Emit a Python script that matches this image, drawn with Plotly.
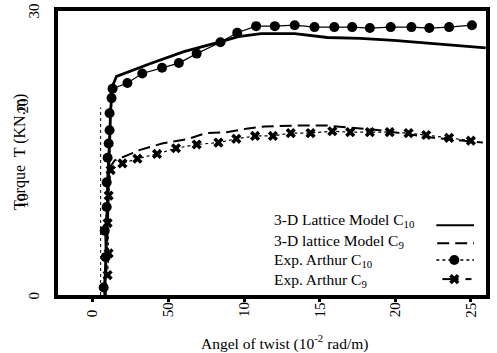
import plotly.graph_objects as go

# ---------------- data ----------------
c10_model_x = [7.9, 9.8, 11.8, 13.1, 15.7, 37.3, 60.2, 81.2, 96.2, 111.3, 133.5, 155.1, 176.7, 199.0, 220.5, 242.1, 259.8]
c10_model_y = [0.0, 10.0, 19.5, 22.1, 23.1, 24.4, 25.7, 26.6, 27.3, 27.6, 27.6, 27.2, 27.1, 26.9, 26.6, 26.3, 26.1]

c9_model_x = [8.5, 10.5, 11.1, 14.4, 30.8, 45.8, 63.5, 74.6, 88.4, 102.7, 113.9, 135.5, 155.0, 189.8, 225.1, 257.9]
c9_model_y = [0.0, 10.0, 13.4, 14.2, 15.3, 16.0, 16.5, 17.1, 17.2, 17.6, 17.8, 17.9, 17.9, 17.4, 16.6, 16.1]

c10_exp_x = [7.2, 8.5, 7.9, 9.2, 9.2, 9.8, 10.5, 11.1, 11.1, 12.4, 13.1, 22.9, 32.7, 45.8, 56.9, 68.7, 84.4, 95.5,
             108.0, 120.4, 133.5, 146.6, 159.7, 171.5, 183.2, 197.0, 210.7, 222.5, 235.6, 250.7]
c10_exp_y = [0.8, 4.0, 6.8, 9.3, 11.9, 14.5, 16.0, 17.4, 19.2, 20.8, 21.8, 22.4, 23.4, 24.0, 24.5, 25.5, 26.7, 27.7,
             28.4, 28.4, 28.5, 28.3, 28.3, 28.3, 28.2, 28.3, 28.3, 28.2, 28.3, 28.5]

c9_exp_x = [9.8, 10.5, 9.8, 10.5, 11.8, 19.6, 29.5, 42.5, 55.0, 68.7, 83.1, 94.9, 107.3, 119.1, 130.9, 144.0,
            158.4, 170.2, 183.2, 196.3, 208.8, 220.5, 235.6, 250.0]
c9_exp_y = [2.1, 4.4, 7.6, 10.5, 13.2, 13.9, 14.4, 14.9, 15.5, 15.9, 16.1, 16.5, 16.8, 16.8, 17.1, 17.1,
            17.3, 17.2, 17.2, 17.2, 17.1, 16.9, 16.6, 16.3]

guide_x = [5.2, 5.2]
guide_y = [0.0, 19.8]

x_tick_vals = [0, 50, 100, 150, 200, 250]
x_tick_text = ["0", "50", "10", "15", "20", "25"]
y_tick_vals = [0, 30]
y_tick_text = ["0", "30"]
y_inner_vals = [10, 20]
y_inner_text = ["10", "20"]

legend_names = ["3-D Lattice Model C<sub>10</sub>", "3-D lattice Model C<sub>9</sub>",
                "Exp. Arthur C<sub>10</sub>", "Exp. Arthur C<sub>9</sub>"]

FONT = "Liberation Serif"

fig = go.Figure()

fig.add_trace(go.Scatter(x=guide_x, y=guide_y, mode="lines",
                         line=dict(color="black", width=1, dash="dot"), showlegend=False))
fig.add_trace(go.Scatter(x=c10_model_x, y=c10_model_y, mode="lines",
                         line=dict(color="black", width=2.8), showlegend=False))
fig.add_trace(go.Scatter(x=c9_model_x, y=c9_model_y, mode="lines",
                         line=dict(color="black", width=2, dash="12px,6px"), showlegend=False))
fig.add_trace(go.Scatter(x=c10_exp_x, y=c10_exp_y, mode="lines+markers",
                         line=dict(color="black", width=1.2),
                         marker=dict(symbol="circle", size=10, color="black"), showlegend=False))
fig.add_trace(go.Scatter(x=c9_exp_x, y=c9_exp_y, mode="lines+markers",
                         line=dict(color="black", width=1.2, dash="dot"),
                         marker=dict(symbol="x", size=9, color="black"), showlegend=False))

# ---------------- hand-made legend (symbols on the right) ----------------
L = dict(xaxis="x2", yaxis="y2", showlegend=False, hoverinfo="skip")
fig.add_trace(go.Scatter(x=[0.884, 0.972], y=[0.246, 0.246], mode="lines",
                         line=dict(color="black", width=2), **L))
fig.add_trace(go.Scatter(x=[0.886, 0.972], y=[0.182, 0.182], mode="lines",
                         line=dict(color="black", width=2, dash="12px,6px"), **L))
fig.add_trace(go.Scatter(x=[0.884, 0.972], y=[0.123, 0.123], mode="lines",
                         line=dict(color="black", width=1.5, dash="dot"), **L))
fig.add_trace(go.Scatter(x=[0.926], y=[0.123], mode="markers",
                         marker=dict(symbol="circle", size=10, color="black"), **L))
fig.add_trace(go.Scatter(x=[0.898, 0.936], y=[0.056, 0.056], mode="lines",
                         line=dict(color="black", width=2), **L))
fig.add_trace(go.Scatter(x=[0.952, 0.966], y=[0.056, 0.056], mode="lines",
                         line=dict(color="black", width=2), **L))
fig.add_trace(go.Scatter(x=[0.926], y=[0.056], mode="markers",
                         marker=dict(symbol="x", size=9, color="black"), **L))

ann = []
legend_y = [0.262, 0.190, 0.120, 0.052]
for name, yy in zip(legend_names, legend_y):
    ann.append(dict(text=name, x=0.500, y=yy, xref="paper", yref="paper", xanchor="left", yanchor="middle",
                    showarrow=False, font=dict(family=FONT, size=15.5, color="black")))

for v, t in zip(x_tick_vals, x_tick_text):
    ann.append(dict(text=t, x=v, y=-0.086, xref="x", yref="paper", xanchor="center", yanchor="bottom",
                    textangle=-90, showarrow=False, font=dict(family=FONT, size=15, color="black")))
for v, t in zip(y_tick_vals, y_tick_text):
    ann.append(dict(text=t, x=-0.055, y=v, xref="paper", yref="y", xanchor="center", yanchor="middle",
                    textangle=-90, showarrow=False, font=dict(family=FONT, size=15, color="black")))
for v, t in zip(y_inner_vals, y_inner_text):
    ann.append(dict(text=t, x=-0.082, y=v, xref="paper", yref="y", xanchor="center", yanchor="middle",
                    textangle=-90, showarrow=False, font=dict(family=FONT, size=15, color="black")))

ann.append(dict(text="Torque  T (KN.m)", x=-0.090, y=0.505, xref="paper", yref="paper",
                xanchor="center", yanchor="middle", textangle=-90, showarrow=False,
                font=dict(family=FONT, size=16, color="black")))
ann.append(dict(text="Angel of twist (10<sup>-2</sup> rad/m)", x=0.530, y=-0.168, xref="paper", yref="paper",
                xanchor="center", yanchor="middle", showarrow=False,
                font=dict(family=FONT, size=15.5, color="black")))

fig.update_layout(
    width=497, height=353,
    margin=dict(l=58, r=7, t=10, b=58),
    paper_bgcolor="white", plot_bgcolor="white",
    showlegend=False,
    annotations=ann,
    xaxis=dict(range=[-23, 260], showgrid=False, zeroline=False, showline=True, mirror=True,
               linecolor="black", linewidth=3.5, tickvals=x_tick_vals, showticklabels=False,
               ticks="outside", ticklen=3, tickwidth=2.5, tickcolor="black"),
    yaxis=dict(range=[0, 30], showgrid=False, zeroline=False, showline=True, mirror=True,
               linecolor="black", linewidth=3.5, tickvals=y_tick_vals, showticklabels=False, ticks=""),
    xaxis2=dict(range=[0, 1], overlaying="x", visible=False, fixedrange=True),
    yaxis2=dict(range=[0, 1], overlaying="y", visible=False, fixedrange=True),
)

fig.write_html("out.html")
